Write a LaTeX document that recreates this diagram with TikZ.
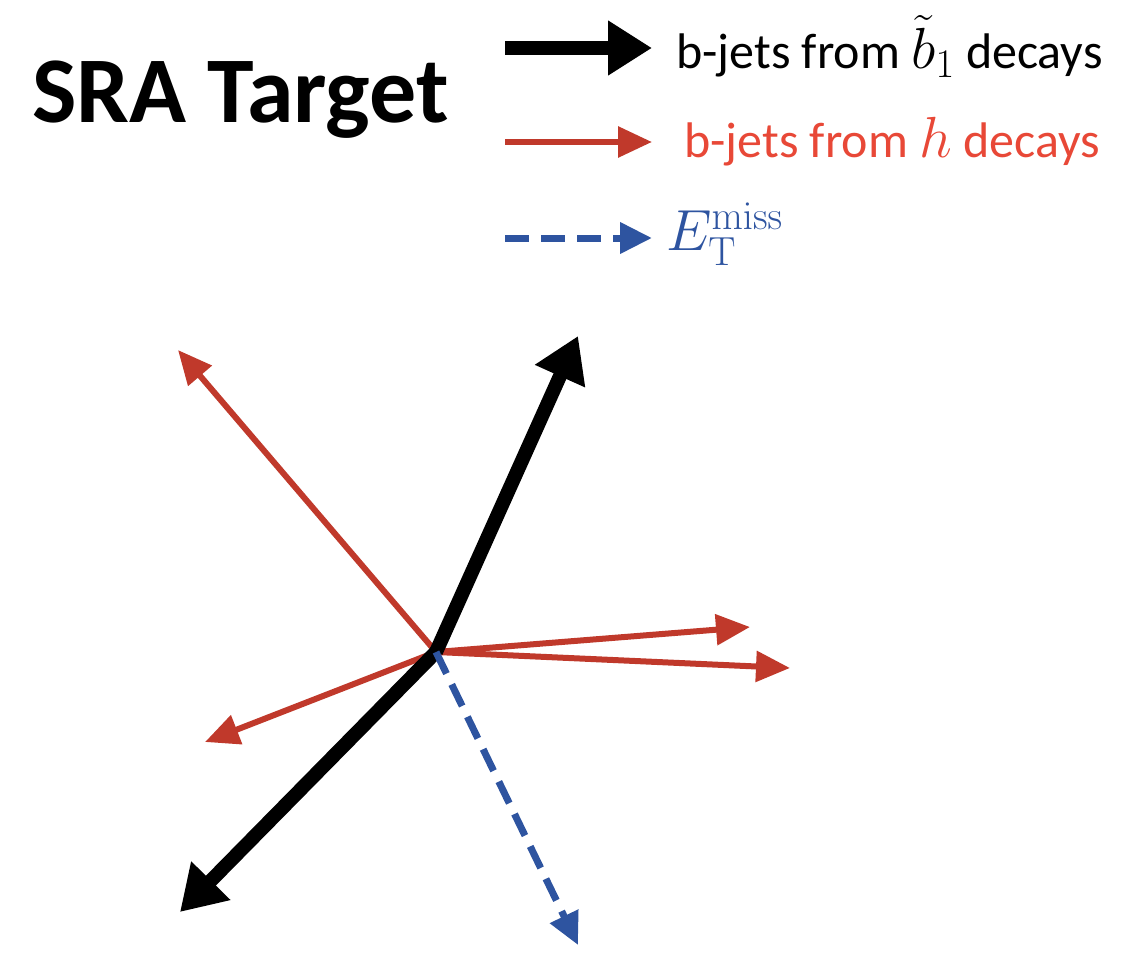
\RequirePackage{fix-cm}
\documentclass[tikz,border=0pt]{standalone}
\usepackage[no-math]{fontspec}
\setmainfont{Carlito}
\usetikzlibrary{arrows.meta}
\definecolor{jetred}{RGB}{192,57,43}
\definecolor{txtred}{RGB}{232,72,55}
\definecolor{metblue}{RGB}{46,84,160}
\newcommand{\bigmath}[1]{{\fontsize{58}{62}\selectfont$#1$}}
\begin{document}
\begin{tikzpicture}[x=1pt,y=-1pt,
  bjet/.style={line width=14pt,black,-{Triangle[length=44pt,width=52pt]}},
  hjet/.style={line width=6pt,jetred,-{Triangle[length=34pt,width=30pt]}},
  met/.style={line width=7pt,metblue,dash pattern=on 24pt off 12pt,-{Triangle[length=32pt,width=30pt]}},
  lab/.style={anchor=west,inner sep=0pt,font=\fontsize{50}{58}\selectfont}]
\useasboundingbox (0,0) rectangle (1137,955);
% title
\node[anchor=west,inner sep=0pt,font=\fontsize{94}{110}\selectfont\bfseries] (title) at (32,100) {SRA Target};
% legend
\coordinate (l1a) at (505,48); \coordinate (l1b) at (652,48);
\coordinate (l2a) at (505,142); \coordinate (l2b) at (652,142);
\coordinate (l3a) at (505,238); \coordinate (l3b) at (652,238);
\draw[bjet] (l1a) -- (l1b);
\draw[hjet] (l2a) -- (l2b);
\draw[met] (l3a) -- (l3b);
\node[lab] (t1) at (676,46) {b-jets from \bigmath{\tilde{b}_1} decays};
\node[lab,text=txtred] (t2) at (684,142) {b-jets from \bigmath{h} decays};
\node[lab,text=metblue] (t3) at (666,234) {\bigmath{E_{\mathrm{T}}^{\mathrm{miss}}}};
% event display
\coordinate (c) at (436,652);
\coordinate (bup) at (578,336);
\coordinate (bdn) at (180,912);
\coordinate (rul) at (178,350);
\coordinate (rll) at (205,742);
\coordinate (rr1) at (750,627);
\coordinate (rr2) at (790,668);
\coordinate (mt) at (578,945);
\draw[hjet] (c) -- (rul);
\draw[hjet] (c) -- (rll);
\draw[hjet] (c) -- (rr1);
\draw[hjet] (c) -- (rr2);
\draw[bjet] (c) -- (bup);
\draw[bjet] (c) -- (bdn);
\draw[met] (c) -- (mt);
\end{tikzpicture}
\end{document}
